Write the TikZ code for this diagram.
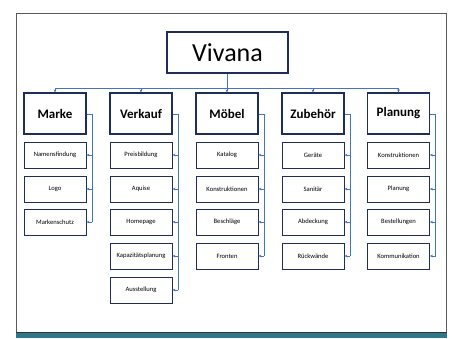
\documentclass[tikz,border=0pt]{standalone}
\usepackage{fontspec}
\setmainfont{Carlito}
\usetikzlibrary{arrows.meta}
\definecolor{boxnavy}{HTML}{1F2C5C}
\definecolor{connblue}{HTML}{4472C4}
\definecolor{framegray}{HTML}{5A5A5A}
\definecolor{barteal}{HTML}{2E7689}
\tikzset{
  topbox/.style={draw=boxnavy, line width=1.3pt, minimum width=121pt, minimum height=41pt, inner sep=0pt, font=\fontsize{26}{28}\selectfont},
  catbox/.style={draw=boxnavy, line width=1.1pt, minimum width=62pt, minimum height=41pt, inner sep=0pt, font=\fontsize{13}{15}\selectfont\bfseries},
  childbox/.style={draw=boxnavy, line width=0.8pt, minimum width=62pt, minimum height=26pt, inner sep=0pt, font=\fontsize{6.6}{8}\selectfont},
  conn/.style={draw=connblue, line width=0.7pt},
  connarrow/.style={conn, -{Stealth[length=3pt,width=2.6pt]}}
}
\begin{document}
\begin{tikzpicture}[x=1pt,y=-1pt]
\useasboundingbox (0,0) rectangle (452,338);
% frame and bottom bar
\draw[framegray, line width=0.9pt] (16,332) -- (16,13) -- (446,13) -- (446,332);
\fill[barteal] (16,332) rectangle (447,338);
\draw[black!80, line width=0.6pt] (16,332) -- (447,332);

% top node
\node[topbox] (viv) at (227.5,52.5) {Vivana};

% categories
\node[catbox] (m) at (55,113.5) {Marke};
\node[catbox] (v) at (141,113.5) {Verkauf};
\node[catbox] (mo) at (227,113.5) {Möbel};
\node[catbox] (z) at (313,113.5) {Zubehör};
\node[catbox] (p) at (398.5,113.5) {Planung};

% children
\node[childbox] (m1) at (55,155) {Namensfindung};
\node[childbox] (m2) at (55,189) {Logo};
\node[childbox] (m3) at (55,222) {Markenschutz};

\node[childbox] (v1) at (141,155) {Preisbildung};
\node[childbox] (v2) at (141,189) {Aquise};
\node[childbox] (v3) at (141,222) {Homepage};
\node[childbox] (v4) at (141,256) {Kapazitätsplanung};
\node[childbox] (v5) at (141,290) {Ausstellung};

\node[childbox] (mo1) at (227,155) {Katalog};
\node[childbox] (mo2) at (227,189) {Konstruktionen};
\node[childbox] (mo3) at (227,222) {Beschläge};
\node[childbox] (mo4) at (227,256) {Fronten};

\node[childbox] (z1) at (313,155) {Geräte};
\node[childbox] (z2) at (313,189) {Sanitär};
\node[childbox] (z3) at (313,222) {Abdeckung};
\node[childbox] (z4) at (313,256) {Rückwände};

\node[childbox] (p1) at (398.5,155) {Konstruktionen};
\node[childbox] (p2) at (398.5,189) {Planung};
\node[childbox] (p3) at (398.5,222) {Bestellungen};
\node[childbox] (p4) at (398.5,256) {Kommunikation};

% bus
\coordinate (bus) at (0,88);
\draw[conn] (viv.south) -- (viv.south |- bus);
\draw[conn] (m.north |- bus) -- (p.north |- bus);
\foreach \c in {m,v,mo,z,p}{
  \draw[connarrow] (\c.north |- bus) -- (\c.north);
}

% child connectors
\foreach \c/\last/\kids in {m/m3/{m1,m2,m3}, v/v5/{v1,v2,v3,v4,v5}, mo/mo4/{mo1,mo2,mo3,mo4}, z/z4/{z1,z2,z3,z4}, p/p4/{p1,p2,p3,p4}}{
  \draw[conn] ([yshift=-0.5pt]\c.east) -- ++(5.5,0) coordinate (\c-r) -- (\c-r |- \last.east);
  \foreach \k in \kids {
    \draw[connarrow] (\c-r |- \k.east) -- (\k.east);
  }
}
\end{tikzpicture}
\end{document}
